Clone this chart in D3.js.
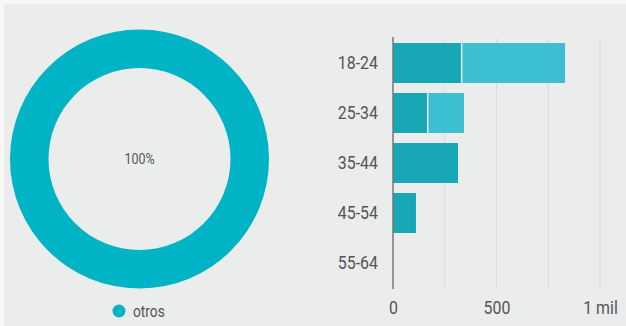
<!DOCTYPE html>
<html>
<head>
<meta charset="utf-8">
<script src="https://cdn.jsdelivr.net/npm/d3@7"></script>
<style>
  body { margin: 0; background: #f7f7f7; }
  svg { display: block; font-family: Roboto, "Noto Sans", sans-serif; }
</style>
</head>
<body>
<svg id="chart" width="626" height="326"></svg>
<script>
// donut data
const slices = ['otros']
const sliceValues = [100]

// bar data
const ageGroups = ['18-24', '25-34', '35-44', '45-54', '55-64']
const seriesA = [328, 164, 314, 111, 0]
const seriesB = [503, 179, 0, 0, 0]
const xTicks = [0, 500, 1000]
const xTickLabels = ['0', '500', '1 mil']

// text in the source looks a bit narrow / tall
const squeeze = 0.86

const svg = d3.select('#chart')

svg.append('rect')
	.attr('x', 4).attr('y', 4)
	.attr('width', 622).attr('height', 322)
	.attr('fill', '#ebecec')

// ---- donut ----
const pie = d3.pie().sort(null)
const arc = d3.arc().innerRadius(91).outerRadius(129.5)

const donut = svg.append('g').attr('transform', 'translate(139.5,159)')

donut.selectAll('path')
	.data(pie(sliceValues))
	.enter().append('path')
		.attr('d', arc)
		.attr('fill', '#00b4c6')

donut.append('text')
	.attr('text-anchor', 'middle')
	.attr('dy', '0.35em')
	.attr('font-size', 14.5)
	.attr('transform', `scale(${squeeze},1)`)
	.attr('fill', '#555')
	.text('100%')

const legend = svg.append('g').attr('transform', 'translate(119,311)')
legend.append('circle').attr('r', 6.5).attr('fill', '#00b4c6')
legend.append('text')
	.attr('x', 14 / squeeze)
	.attr('dy', '0.35em')
	.attr('font-size', 16)
	.attr('transform', `scale(${squeeze},1)`)
	.attr('fill', '#555')
	.text(slices[0])

// ---- bars ----
const x = d3.scaleLinear().domain([0, 1000]).range([393, 600])
const y = d3.scaleBand().domain(ageGroups).range([38, 288]).paddingInner(0.2).paddingOuter(0.1)

const grid = svg.append('g')
grid.selectAll('line')
	.data([250, 500, 750, 1000])
	.enter().append('line')
		.attr('x1', (d) => x(d)).attr('x2', (d) => x(d))
		.attr('y1', 38).attr('y2', 288)
		.attr('stroke', '#dadada')
		.attr('stroke-width', 1)

const bars = svg.append('g')
bars.selectAll('rect.a')
	.data(ageGroups)
	.enter().append('rect')
		.attr('class', 'a')
		.attr('x', x(0))
		.attr('y', (d) => y(d))
		.attr('width', (d, i) => x(seriesA[i]) - x(0))
		.attr('height', y.bandwidth())
		.attr('fill', '#17a7b6')

bars.selectAll('rect.b')
	.data(ageGroups)
	.enter().append('rect')
		.attr('class', 'b')
		.attr('x', (d, i) => x(seriesA[i]) + 1.5)
		.attr('y', (d) => y(d))
		.attr('width', (d, i) => Math.max(0, x(seriesA[i] + seriesB[i]) - x(seriesA[i]) - 1.5))
		.attr('height', y.bandwidth())
		.attr('fill', '#3dbfd2')
		.attr('display', (d, i) => seriesB[i] > 0 ? null : 'none')

// y axis
const yAxis = svg.append('g')
	.attr('transform', 'translate(393,0)')
	.call(d3.axisLeft(y).tickSize(0).tickPadding(15))
yAxis.select('.domain').attr('stroke', '#777').attr('stroke-width', 1.5)
	.attr('d', 'M0,37V289')
yAxis.selectAll('text')
	.attr('x', -15 / squeeze)
	.attr('transform', `scale(${squeeze},1)`)
	.attr('font-family', 'Roboto, sans-serif')
	.attr('font-size', 18.5)
	.attr('fill', '#555')

// x axis
const xAxis = svg.append('g')
	.attr('transform', 'translate(0,288)')
	.call(d3.axisBottom(x).tickValues(xTicks).tickSize(0).tickPadding(13)
		.tickFormat((d, i) => xTickLabels[i]))
xAxis.select('.domain').remove()
xAxis.selectAll('text')
	.attr('transform', `scale(${squeeze},1)`)
	.attr('font-family', 'Roboto, sans-serif')
	.attr('font-size', 18.5)
	.attr('fill', '#555')
</script>
</body>
</html>
